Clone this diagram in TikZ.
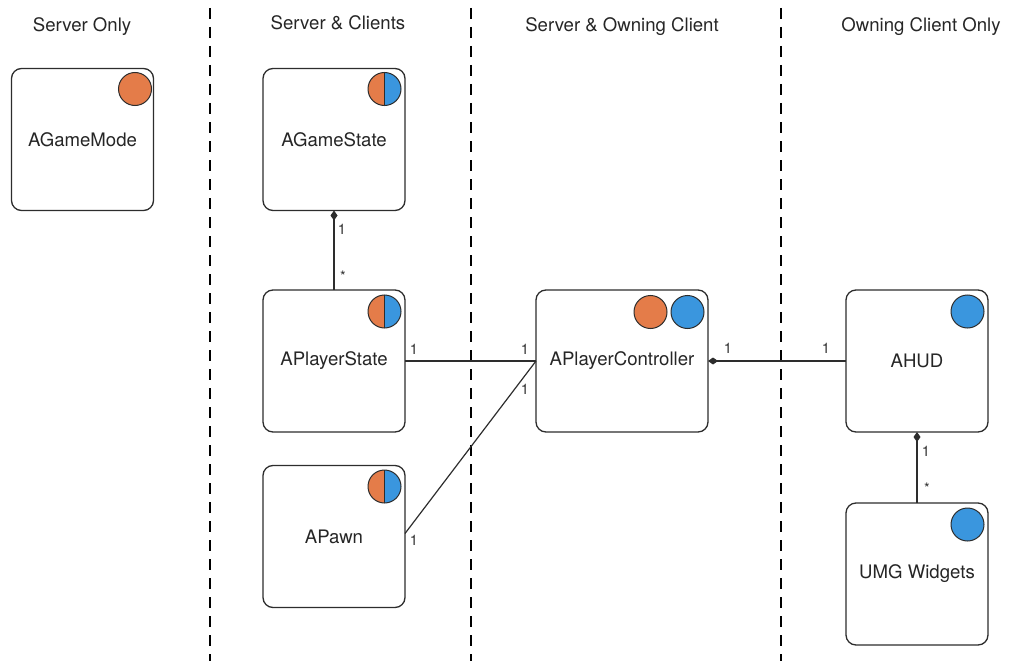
\documentclass[tikz,border=0pt]{standalone}
\usepackage{fontspec}
\setmainfont{TeX Gyre Heros}
\usetikzlibrary{arrows.meta}
\definecolor{orng}{RGB}{228,124,73}
\definecolor{blu}{RGB}{58,150,222}
\definecolor{ink}{RGB}{45,45,45}
\newcommand\halfcirc[2]{%
  \fill[blu] (#1,#2) circle[radius=16.5];
  \begin{scope}\clip (#1-20,#2-20) rectangle (#1,#2+20);
  \fill[orng] (#1,#2) circle[radius=16.5];\end{scope}
  \draw[ink,line width=1pt] (#1,#2-16.5) -- (#1,#2+16.5);
  \draw[ink,line width=1pt] (#1,#2) circle[radius=16.5];}
\newcommand\fullcirc[3]{%
  \fill[#3] (#1,#2) circle[radius=16.5];
  \draw[ink,line width=1pt] (#1,#2) circle[radius=16.5];}
\begin{document}
\begin{tikzpicture}[x=1pt,y=-1pt,
  cls/.style={draw=ink,line width=1.3pt,rounded corners=10pt,fill=white,
    minimum width=142pt,minimum height=142pt,inner sep=0pt,outer sep=0pt,
    font=\fontsize{18.6}{20}\selectfont,text=black!85},
  hdr/.style={font=\fontsize{18.6}{20}\selectfont,text=black!85},
  mult/.style={font=\fontsize{14.5}{16}\selectfont,text=black!80,inner sep=0pt},
  conn/.style={draw=ink,line width=1.2pt},
  sep/.style={draw=black,line width=2pt,dash pattern=on 11pt off 8pt},
  dia/.tip={Diamond[length=10pt,width=7pt]}]
\useasboundingbox (0,0) rectangle (1010,661);
% separators
\coordinate (s1t) at (210,8); \coordinate (s1b) at (210,661);
\coordinate (s2t) at (471,8); \coordinate (s2b) at (471,661);
\coordinate (s3t) at (781,8); \coordinate (s3b) at (781,661);
\draw[sep] (s1t) -- (s1b);
\draw[sep] (s2t) -- (s2b);
\draw[sep] (s3t) -- (s3b);
% headers
\node[hdr] (h1) at (82,27) {Server Only};
\node[hdr] (h2) at (338,23) {Server \& Clients};
\node[hdr] (h3) at (622,27) {Server \& Owning Client};
\node[hdr] (h4) at (921,27) {Owning Client Only};
% classes
\node[cls] (gm) at (82.5,139.5) {AGameMode};
\node[cls] (gs) at (334,139.5) {AGameState};
\node[cls] (ps) at (334,361) {APlayerState};
\node[cls] (pw) at (334,536.5) {APawn};
\node[cls,minimum width=172pt] (pc) at (622,361) {APlayerController};
\node[cls] (hud) at (917,361) {AHUD};
\node[cls] (umg) at (917,574) {UMG Widgets};
% circles
\fullcirc{135}{89}{orng}
\halfcirc{384.5}{89}
\halfcirc{384.5}{311.5}
\halfcirc{384.5}{486.5}
\fullcirc{650.5}{312}{orng}
\fullcirc{687.5}{312}{blu}
\fullcirc{967.5}{311.5}{blu}
\fullcirc{967.5}{524.5}{blu}
% connectors
\draw[conn,dia-] (gs.south) -- (ps.north);
\draw[conn] (ps.east) -- (pc.west);
\draw[conn] ([yshift=3pt]pw.east) -- (pc.west);
\draw[conn,dia-] (pc.east) -- (hud.west);
\draw[conn,dia-] (hud.south) -- (umg.north);
% multiplicities
\node[mult] (m1) at (342,229) {1};
\node[mult] (m2) at (343,276) {*};
\node[mult] (m3) at (414,349) {1};
\node[mult] (m4) at (525,349) {1};
\node[mult] (m5) at (525,389) {1};
\node[mult] (m6) at (414,540) {1};
\node[mult] (m7) at (728,348) {1};
\node[mult] (m8) at (826,348) {1};
\node[mult] (m9) at (926,451) {1};
\node[mult] (m10) at (927,488) {*};
\end{tikzpicture}
\end{document}
